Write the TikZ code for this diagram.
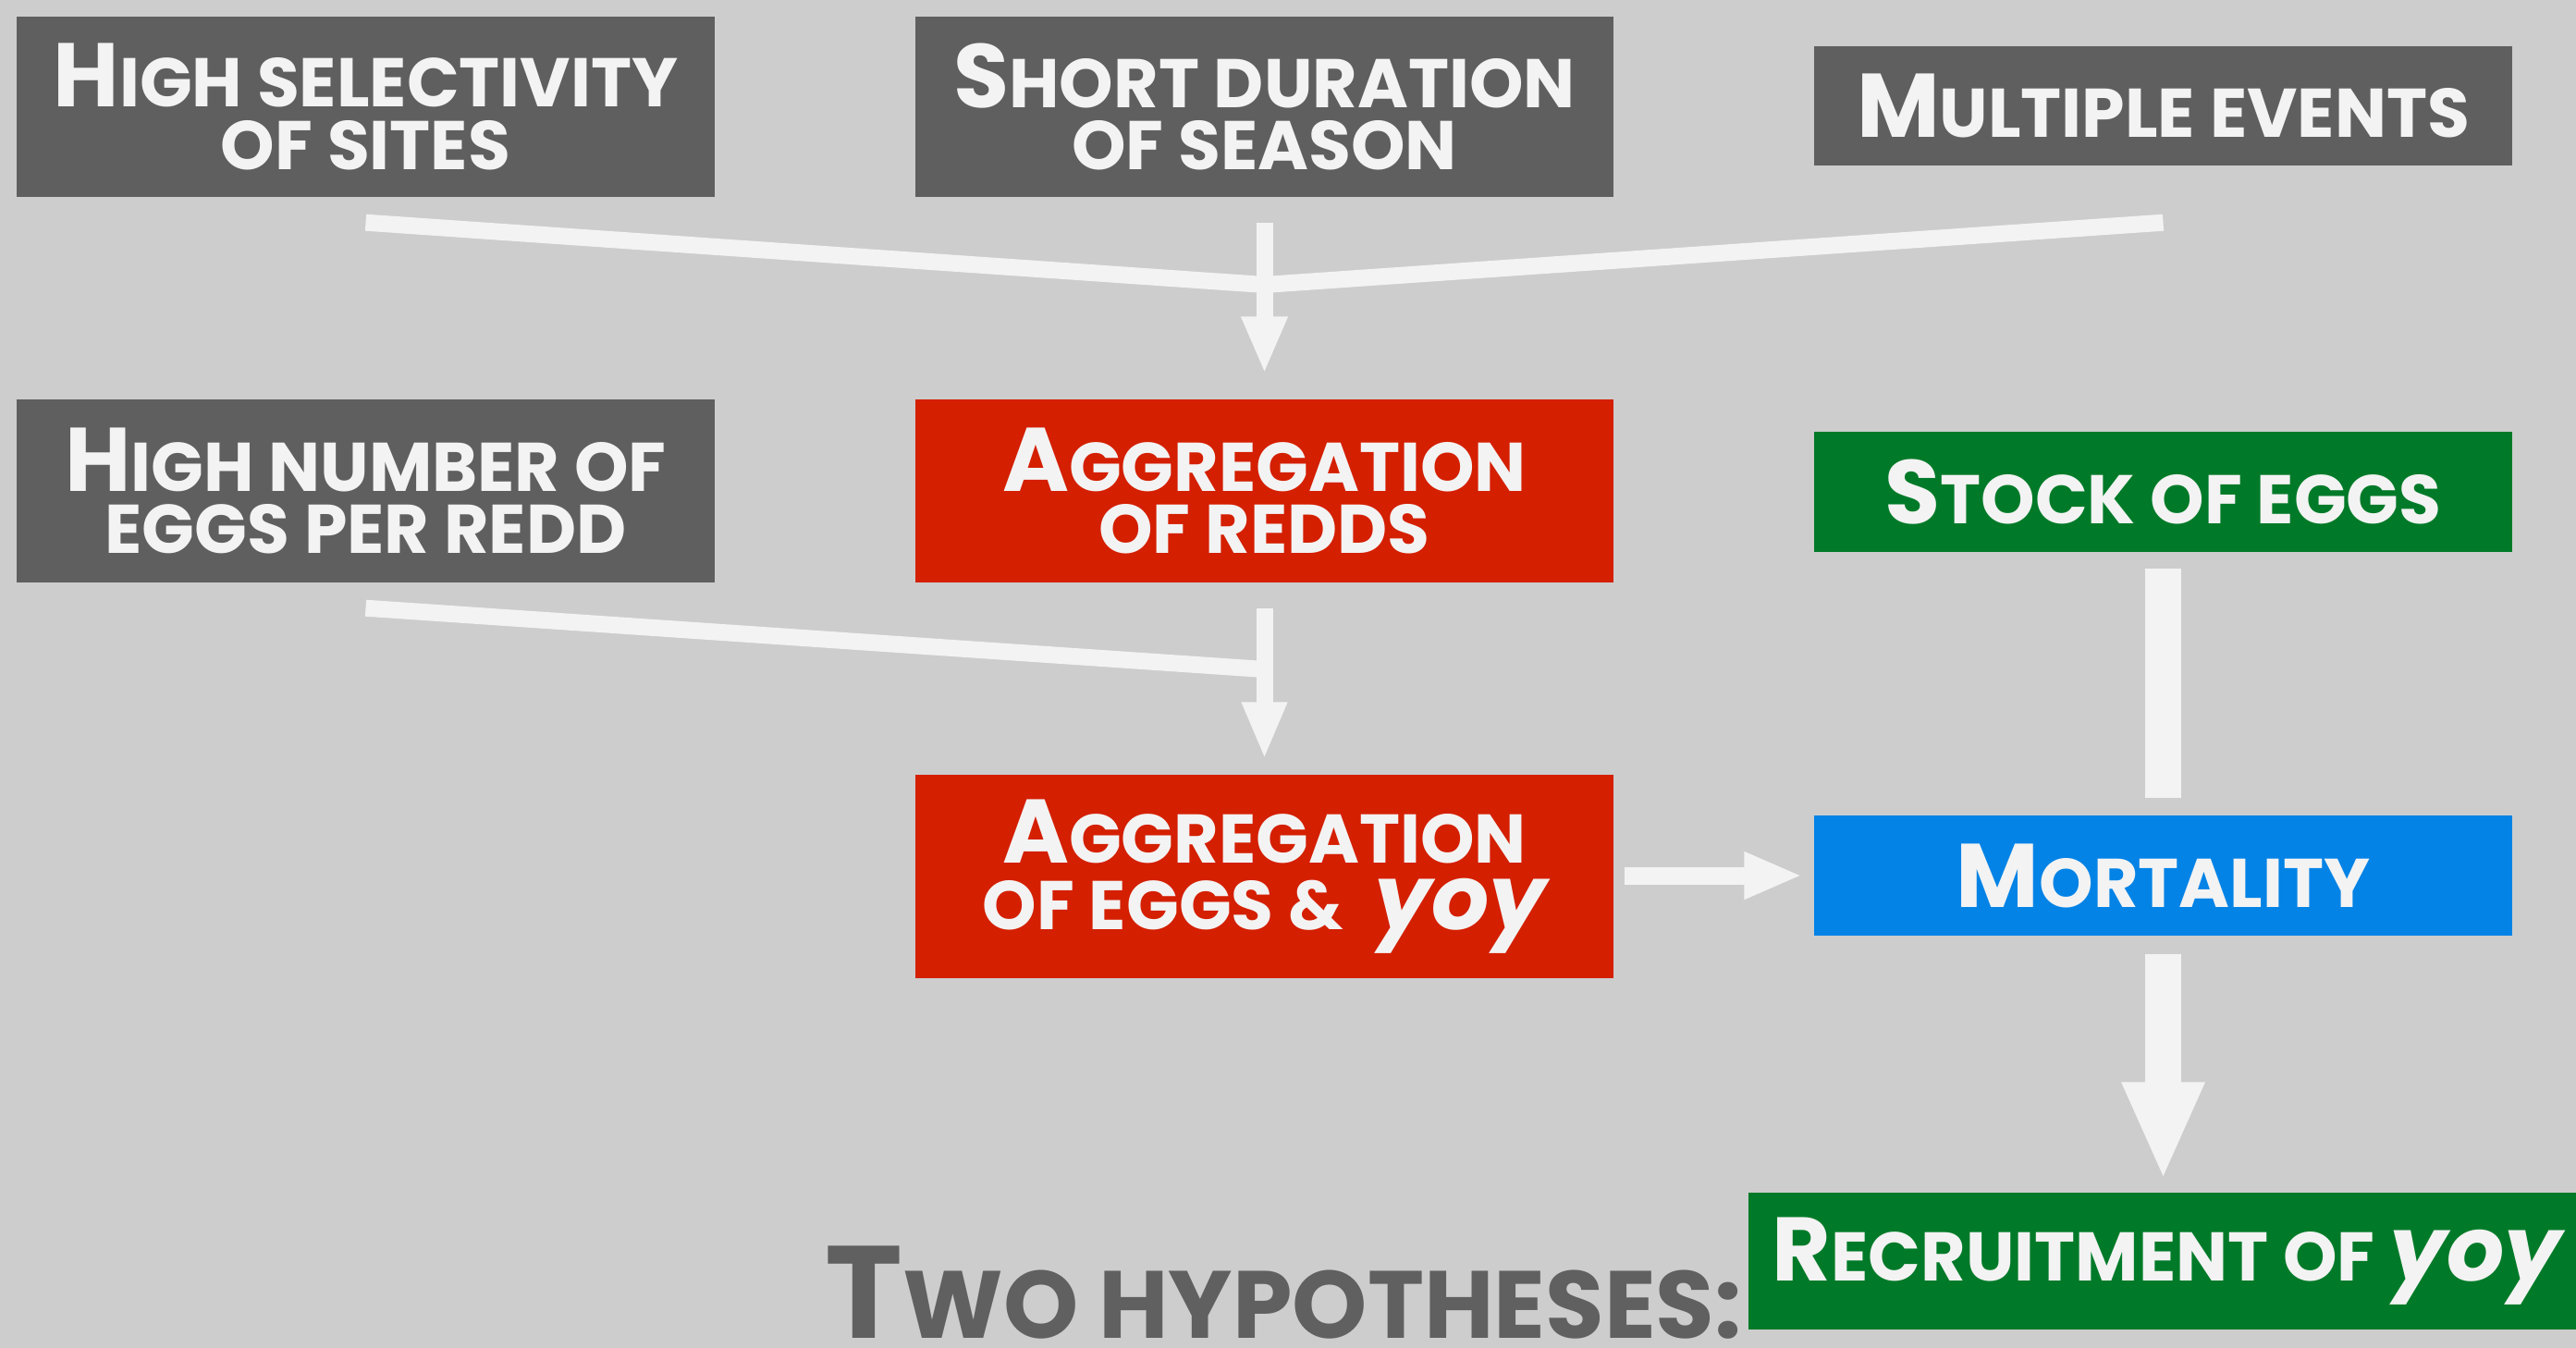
\documentclass[tikz,border=0pt]{standalone}
\usepackage{fontspec}
\setmainfont{Poppins}
\usetikzlibrary{arrows.meta}

\definecolor{bgrey}{HTML}{CDCDCD}
\definecolor{tilegrey}{HTML}{5F5F5F}
\definecolor{tilered}{HTML}{D41F00}
\definecolor{tilegreen}{HTML}{007A28}
\definecolor{tileblue}{HTML}{0483E6}
\definecolor{linkwhite}{HTML}{F3F3F3}
\definecolor{titlegrey}{HTML}{606060}

\newcommand{\bigsz}{\fontsize{27.8}{19.1}\selectfont}
\newcommand{\smallsz}{\fontsize{21.2}{19.1}\selectfont}
% first letter big, the rest in small capitals
\newcommand{\sct}[2]{{\bigsz #1}\MakeUppercase{#2}}
\newcommand{\scl}[1]{\MakeUppercase{#1}}

\begin{document}
\begin{tikzpicture}[
    tile/.style={minimum width=7.55cm, inner sep=0pt, align=center, text=linkwhite, font=\bfseries\smallsz},
    link/.style={draw=linkwhite, line width=1.8mm, line join=miter},
    fat/.style={draw=linkwhite, line width=3.9mm}
  ]
  \useasboundingbox (0, 0) rectangle (27.86, -14.58);
  \fill[bgrey] (0, 0) rectangle (27.86, -14.58);

  % causes
  \node[tile, fill=tilegrey, minimum height=1.95cm] (sites) at (3.955, -1.155) {\sct{H}{igh selectivity}\\\scl{of sites}};
  \node[tile, fill=tilegrey, minimum height=1.95cm] (season) at (13.675, -1.155) {\sct{S}{hort duration}\\\scl{of season}};
  \node[tile, fill=tilegrey, minimum height=1.29cm] (events) at (23.395, -1.145) {\sct{M}{ultiple events}};
  \node[tile, fill=tilegrey, minimum height=1.98cm] (eggs) at (3.955, -5.31) {\sct{H}{igh number of}\\\scl{eggs per redd}};

  % hypotheses
  \node[tile, fill=tilered, minimum height=1.98cm] (redds) at (13.675, -5.31) {\sct{A}{ggregation}\\\scl{of redds}};
  \node[tile, fill=tilered, minimum height=2.20cm] (aggeggs) at (13.675, -9.48) {\sct{A}{ggregation}\\[1.4pt]\scl{of eggs \&}\hspace{0.45em}{\bigsz\itshape yoy}};
  \node[tile, fill=tilegreen, minimum height=1.30cm] (stock) at (23.395, -5.32) {\sct{S}{tock of eggs}};
  \node[tile, fill=tileblue, minimum height=1.30cm] (mort) at (23.395, -9.47) {\sct{M}{ortality}};
  \node[tile, fill=tilegreen, minimum width=9.05cm, minimum height=1.48cm] (recruit) at (23.435, -13.64) {\sct{R}{ecruitment of} {\bigsz\itshape yoy}};

  \node[anchor=base west, inner sep=0pt, text=titlegrey, font=\bfseries] (title) at (8.92, -14.47)
    {{\fontsize{40.4}{40}\selectfont T}{\fontsize{29.4}{30}\selectfont\scl{wo hypotheses:}}};

  % connectors
  \foreach \n in {sites, season, eggs, redds}
    \coordinate (\n-out) at ([yshift=-0.27cm]\n.south);
  \coordinate (events-out) at (events.south |- season-out);
  \coordinate (j1) at (season-out |- 0, -3.08);
  \coordinate (j2) at (redds-out |- 0, -7.24);

  \draw[link] (sites-out) -- (j1) -- (events-out);
  \draw[link, -{Triangle[length=6.2mm, width=4.6mm]}, shorten >=2.7mm] (season-out) -- (redds.north);
  \draw[link] (eggs-out) -- (j2);
  \draw[link, -{Triangle[length=6.2mm, width=4.5mm]}, shorten >=1.6mm] (redds-out) -- (aggeggs.north);
  \draw[link, line width=1.9mm, -{Triangle[length=6.3mm, width=4.7mm]}, shorten <=1.1mm, shorten >=1.2mm]
    (aggeggs.east |- mort.west) -- (mort.west);

  \draw[fat, shorten <=1.7mm, shorten >=1.8mm] (stock.south -| mort.south) -- (mort.north);
  \draw[fat, -{Triangle[length=10.6mm, width=8.2mm]}, shorten <=1.9mm, shorten >=1.3mm]
    (mort.south) -- (mort.south |- recruit.north);
\end{tikzpicture}
\end{document}
